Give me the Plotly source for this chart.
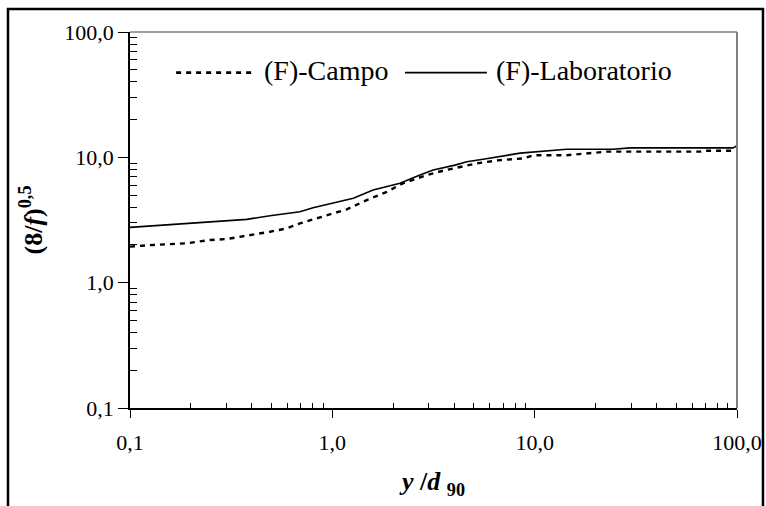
import plotly.graph_objects as go

# (F)-Campo: y/d90 vs (8/f)^0.5
campo_x = [0.1, 0.13, 0.19, 0.248, 0.301, 0.406, 0.492, 0.595, 0.692, 0.805, 0.938,
           1.18, 1.48, 1.86, 2.23, 2.51, 2.93, 3.52, 5.17, 6.75, 8.79, 9.86, 14.4,
           22.7, 65.8, 67.8, 100.0]
campo_y = [1.94, 2.0, 2.06, 2.19, 2.23, 2.40, 2.55, 2.71, 2.97, 3.20, 3.46,
           3.85, 4.56, 5.31, 6.2, 6.59, 7.22, 7.82, 8.95, 9.51, 9.81, 10.4, 10.4,
           11.1, 11.1, 11.3, 11.3]

# (F)-Laboratorio
lab_x = [0.1, 0.13, 0.198, 0.268, 0.378, 0.492, 0.692, 0.803, 1.01, 1.27, 1.59,
         2.16, 2.71, 3.15, 4.04, 4.62, 5.56, 6.75, 8.47, 14.4, 24.4, 29.7, 95.8, 100.0]
lab_y = [2.76, 2.84, 3.01, 3.10, 3.20, 3.42, 3.68, 3.96, 4.34, 4.71, 5.48,
         6.2, 7.22, 7.92, 8.67, 9.22, 9.64, 10.1, 10.8, 11.6, 11.6, 11.9, 11.9, 12.4]

tick_vals = [0.1, 1, 10, 100]
tick_text = ["0,1", "1,0", "10,0", "100,0"]
minor_vals = [m * 10 ** e for e in (-1, 0, 1) for m in range(2, 10)]

FONT = "Times New Roman"
DASH_CAMPO = "5px,5px"

fig = go.Figure()
fig.add_trace(go.Scatter(x=campo_x, y=campo_y, mode="lines", name="(F)-Campo",
                         showlegend=False,
                         line=dict(color="black", width=2.4, dash=DASH_CAMPO)))
fig.add_trace(go.Scatter(x=lab_x, y=lab_y, mode="lines", name="(F)-Laboratorio",
                         showlegend=False,
                         line=dict(color="black", width=1.6)))

axis_common = dict(
    type="log", range=[-1, 2], tickvals=tick_vals, ticktext=tick_text,
    showgrid=False, zeroline=False, showline=True, linecolor="black", linewidth=1.5,
    ticks="outside", tickcolor="black", tickwidth=1.2, automargin=False,
    tickfont=dict(family=FONT, size=22, color="black"),
)

fig.update_xaxes(**axis_common, ticklen=8, ticklabelstandoff=6,
                 minor=dict(tickvals=minor_vals, ticks="inside", ticklen=5,
                            tickcolor="black", tickwidth=1, showgrid=False),
                 title=dict(text="<b><i>y</i> /<i>d</i> <sub>90</sub></b>",
                            font=dict(family=FONT, size=26, color="black"),
                            standoff=18))
fig.update_yaxes(**axis_common, ticklen=10,
                 minor=dict(tickvals=minor_vals, ticks="inside", ticklen=7,
                            tickcolor="black", tickwidth=1, showgrid=False),
                 title=dict(text="<b>(8/<i>f</i>)<sup>0,5</sup></b>",
                            font=dict(family=FONT, size=26, color="black"),
                            standoff=14))

# thin grey frame on the top and right of the plot area
fig.add_shape(type="line", xref="paper", yref="paper", x0=0, x1=1, y0=1, y1=1,
              line=dict(color="#808080", width=1.5))
fig.add_shape(type="line", xref="paper", yref="paper", x0=1, x1=1, y0=0, y1=1,
              line=dict(color="#808080", width=2))
# outer chart border
fig.add_shape(type="rect", xref="paper", yref="paper",
              x0=-0.201, x1=1.0428, y0=-0.30, y1=1.061,
              line=dict(color="black", width=2.5))

# legend drawn inside the plot area, one sample line and label per series
legend_items = [
    dict(label="(F)-Campo", x0=0.076, x1=0.203, tx=0.218,
         line=dict(color="black", width=2.6, dash=DASH_CAMPO)),
    dict(label="(F)-Laboratorio", x0=0.453, x1=0.588, tx=0.600,
         line=dict(color="black", width=1.6)),
]
for item in legend_items:
    fig.add_shape(type="line", xref="paper", yref="paper",
                  x0=item["x0"], x1=item["x1"], y0=0.892, y1=0.892, line=item["line"])
    fig.add_annotation(text=item["label"], xref="paper", yref="paper",
                       x=item["tx"], y=0.898, xanchor="left", yanchor="middle",
                       showarrow=False,
                       font=dict(family=FONT, size=28, color="black"))

fig.update_layout(
    width=766, height=506,
    margin=dict(l=130, r=29, t=32, b=98),
    paper_bgcolor="white", plot_bgcolor="white",
    font=dict(family=FONT, color="black"),
    showlegend=False,
)

fig.write_html("out.html")
